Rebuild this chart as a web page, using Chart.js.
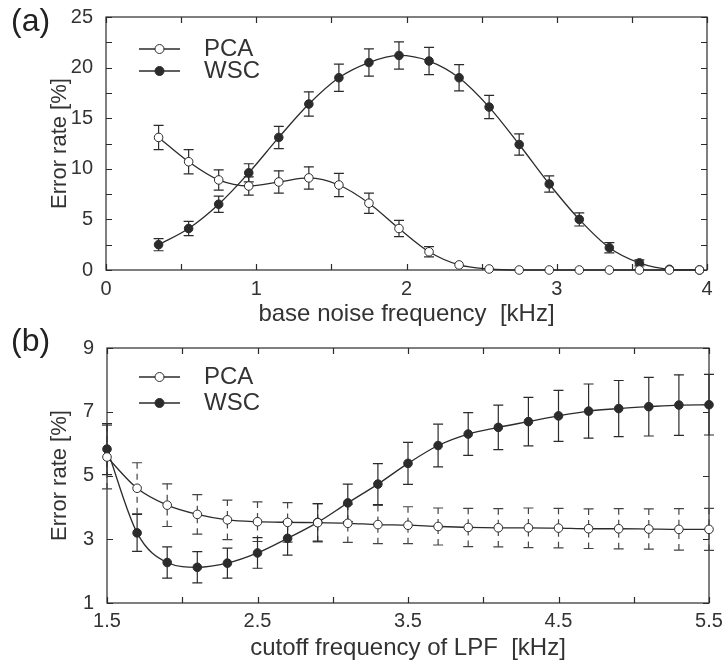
<!DOCTYPE html>
<html>
<head>
<meta charset="utf-8">
<script src="https://cdn.jsdelivr.net/npm/chart.js@4.4.1/dist/chart.umd.min.js"></script>
<style>
  body { margin: 0; background: #fff; }
  canvas { position: absolute; left: 0; display: block; }
</style>
</head>
<body>
<canvas id="chartA" width="724" height="333" style="top:0"></canvas>
<canvas id="chartB" width="724" height="346" style="top:320px"></canvas>
<script>
// ---------- data: panel (a) ----------
const freqA    = [0.35, 0.55, 0.75, 0.95, 1.15, 1.35, 1.55, 1.75, 1.95, 2.15, 2.35, 2.55, 2.75, 2.95, 3.15, 3.35, 3.55, 3.75, 3.95];
const pcaA     = [13.1, 10.7, 8.9, 8.3, 8.7, 9.1, 8.4, 6.6, 4.1, 1.8, 0.5, 0.1, 0, 0, 0, 0, 0, 0, 0];
const pcaErrA  = [1.2, 1.2, 1.0, 0.9, 1.1, 1.1, 1.15, 1.0, 0.8, 0.5, 0, 0, 0, 0, 0, 0, 0, 0, 0];
const wscA     = [2.5, 4.1, 6.5, 9.6, 13.1, 16.4, 19.0, 20.5, 21.2, 20.65, 19.0, 16.1, 12.4, 8.5, 5.0, 2.2, 0.7, 0.07, 0];
const wscErrA  = [0.6, 0.7, 0.8, 0.9, 1.1, 1.2, 1.35, 1.35, 1.35, 1.35, 1.3, 1.15, 1.05, 0.8, 0.65, 0.5, 0.3, 0, 0];
const xTicksA  = [0, 0.5, 1, 1.5, 2, 2.5, 3, 3.5, 4];
const yTicksA  = [0, 2.5, 5, 7.5, 10, 12.5, 15, 17.5, 20, 22.5, 25];

// ---------- data: panel (b) ----------
const freqB    = [1.5, 1.7, 1.9, 2.1, 2.3, 2.5, 2.7, 2.9, 3.1, 3.3, 3.5, 3.7, 3.9, 4.1, 4.3, 4.5, 4.7, 4.9, 5.1, 5.3, 5.5];
const pcaB     = [5.58, 4.6, 4.07, 3.78, 3.61, 3.55, 3.53, 3.52, 3.5, 3.46, 3.44, 3.4, 3.37, 3.36, 3.36, 3.35, 3.33, 3.33, 3.32, 3.31, 3.31];
const pcaErrB  = [1.0, 0.8, 0.67, 0.62, 0.62, 0.62, 0.62, 0.6, 0.6, 0.6, 0.58, 0.58, 0.6, 0.6, 0.62, 0.62, 0.62, 0.63, 0.63, 0.65, 0.66];
const wscB     = [5.83, 3.2, 2.27, 2.12, 2.25, 2.57, 3.03, 3.53, 4.14, 4.73, 5.38, 5.94, 6.3, 6.51, 6.69, 6.87, 7.02, 7.1, 7.16, 7.21, 7.22];
const wscErrB  = [0.8, 0.58, 0.49, 0.49, 0.47, 0.48, 0.53, 0.59, 0.59, 0.64, 0.66, 0.67, 0.67, 0.7, 0.76, 0.8, 0.85, 0.88, 0.92, 0.95, 0.95];
const xTicksB  = [1.5, 2, 2.5, 3, 3.5, 4, 4.5, 5, 5.5];
const yTicksB  = [1, 3, 5, 7, 9];

const INK = '#2b2b2b';
const FONT = "'Liberation Sans', Arial, sans-serif";

Chart.defaults.font.family = FONT;
Chart.defaults.color = '#333';

// ---------- plugins ----------
// box frame with inward ticks on all four sides
const framePlugin = {
    id: 'frame',
    beforeDatasetsDraw(chart) {
        const { ctx, chartArea: a, scales } = chart;
        const len = 6;
        ctx.save();
        ctx.strokeStyle = INK;
        ctx.lineWidth = 1.2;
        ctx.strokeRect(a.left, a.top, a.right - a.left, a.bottom - a.top);
        ctx.beginPath();
        scales.x.ticks.forEach(t => {
            const px = Math.round(scales.x.getPixelForValue(t.value)) + 0.5;
            ctx.moveTo(px, a.bottom); ctx.lineTo(px, a.bottom - len);
            ctx.moveTo(px, a.top);    ctx.lineTo(px, a.top + len);
        });
        scales.y.ticks.forEach(t => {
            const py = Math.round(scales.y.getPixelForValue(t.value)) + 0.5;
            ctx.moveTo(a.left, py);  ctx.lineTo(a.left + len, py);
            ctx.moveTo(a.right, py); ctx.lineTo(a.right - len, py);
        });
        ctx.stroke();
        ctx.restore();
    }
};

// vertical error bars, taken from dataset.errors
const errorBarPlugin = {
    id: 'errorBars',
    beforeDatasetsDraw(chart) {
        const { ctx, scales } = chart;
        chart.data.datasets.forEach(ds => {
            if (!ds.errors) return;
            ctx.save();
            ctx.strokeStyle = ds.errorColor || INK;
            ctx.lineWidth = 1.2;
            ds.data.forEach((p, i) => {
                const e = ds.errors[i];
                if (!e) return;
                const px = scales.x.getPixelForValue(p.x);
                const py = scales.y.getPixelForValue(p.y);
                const top = scales.y.getPixelForValue(p.y + e);
                const bot = scales.y.getPixelForValue(p.y - e);
                // stems, drawn from cap toward the point
                ctx.setLineDash(ds.errorDash || []);
                ctx.beginPath();
                ctx.moveTo(px, top); ctx.lineTo(px, py);
                ctx.moveTo(px, bot); ctx.lineTo(px, py);
                ctx.stroke();
                ctx.setLineDash([]);
                ctx.beginPath();
                ctx.moveTo(px - 5, top); ctx.lineTo(px + 5, top);
                ctx.moveTo(px - 5, bot); ctx.lineTo(px + 5, bot);
                ctx.stroke();
            });
            ctx.restore();
        });
    }
};

// legend inside the plot + panel letter
const insideLegendPlugin = {
    id: 'insideLegend',
    afterDraw(chart, args, opts) {
        const ctx = chart.ctx;
        ctx.save();
        chart.data.datasets.forEach((ds, i) => {
            const y = opts.rows[i];
            ctx.strokeStyle = INK;
            ctx.lineWidth = 1.3;
            ctx.beginPath();
            ctx.moveTo(opts.x0, y); ctx.lineTo(opts.x1, y);
            ctx.stroke();
            ctx.beginPath();
            ctx.arc((opts.x0 + opts.x1) / 2, y, 4.5, 0, Math.PI * 2);
            ctx.fillStyle = ds.pointBackgroundColor;
            ctx.fill();
            ctx.lineWidth = 1;
            ctx.stroke();
            ctx.fillStyle = '#333';
            ctx.font = '24px ' + FONT;
            ctx.textBaseline = 'middle';
            ctx.textAlign = 'left';
            ctx.fillText(ds.label, opts.textX, y);
        });
        ctx.font = '32px ' + FONT;
        ctx.textBaseline = 'alphabetic';
        ctx.fillStyle = '#222';
        ctx.fillText(opts.panel, 11, opts.panelY);
        ctx.restore();
    }
};

// ---------- chart builder ----------
function makeDataset(label, xs, ys, errs, filled, dash) {
    return {
        label: label,
        data: xs.map((x, i) => ({ x: x, y: ys[i] })),
        errors: errs,
        errorDash: dash,
        errorColor: dash ? '#444' : INK,
        borderColor: INK,
        borderWidth: 1.3,
        pointRadius: 4.3,
        pointBorderWidth: 1,
        pointBorderColor: INK,
        pointBackgroundColor: filled ? INK : '#fff',
        cubicInterpolationMode: 'monotone',
        clip: false
    };
}

function makeChart(id, cfg) {
    const isLabel = cfg.isLabel;
    new Chart(document.getElementById(id), {
        type: 'line',
        data: { datasets: cfg.datasets },
        options: {
            responsive: false,
            animation: false,
            devicePixelRatio: 1,
            layout: { padding: { left: 0, right: cfg.padRight, top: cfg.padTop, bottom: 0 } },
            plugins: {
                legend: { display: false },
                tooltip: { enabled: false },
                insideLegend: cfg.legend
            },
            scales: {
                x: {
                    type: 'linear',
                    min: cfg.xMin, max: cfg.xMax,
                    afterBuildTicks: s => { s.ticks = cfg.xTicks.map(v => ({ value: v })); },
                    afterFit: s => { s.height = 63; },
                    grid: { display: false },
                    border: { display: false },
                    ticks: {
                        autoSkip: false, maxRotation: 0, padding: cfg.xTickPad,
                        font: { size: 20 },
                        callback: v => isLabel.x(v) ? String(v) : ''
                    },
                    title: {
                        display: true, text: cfg.xTitle,
                        font: { size: 24 }, padding: { top: 0, bottom: cfg.xTitlePad }
                    }
                },
                y: {
                    type: 'linear',
                    min: cfg.yMin, max: cfg.yMax,
                    afterBuildTicks: s => { s.ticks = cfg.yTicks.map(v => ({ value: v })); },
                    afterFit: s => { s.width = cfg.yWidth; },
                    grid: { display: false },
                    border: { display: false },
                    ticks: {
                        autoSkip: false, padding: 5,
                        font: { size: 20 },
                        callback: v => isLabel.y(v) ? String(v) : ''
                    },
                    title: {
                        display: true, text: 'Error rate [%]',
                        font: { size: 22 }, padding: { top: 47, bottom: 0 }
                    }
                }
            }
        },
        plugins: [framePlugin, errorBarPlugin, insideLegendPlugin]
    });
}

const near = (a, b) => Math.abs(a - b) < 1e-6;

makeChart('chartA', {
    datasets: [
        makeDataset('PCA', freqA, pcaA, pcaErrA, false, null),
        makeDataset('WSC', freqA, wscA, wscErrA, true, null)
    ],
    xMin: 0, xMax: 4, yMin: 0, yMax: 25,
    xTicks: xTicksA, yTicks: yTicksA,
    isLabel: { x: v => near(v, Math.round(v)), y: v => near(v % 5, 0) },
    xTitle: 'base noise frequency  [kHz]',
    xTickPad: -1,
    xTitlePad: 4,
    yWidth: 106,
    padRight: 17,
    padTop: 15,
    legend: { x0: 139, x1: 180, textX: 204, rows: [49, 71], panel: '(a)', panelY: 31 }
});

makeChart('chartB', {
    datasets: [
        makeDataset('PCA', freqB, pcaB, pcaErrB, false, [6, 5]),
        makeDataset('WSC', freqB, wscB, wscErrB, true, null)
    ],
    xMin: 1.5, xMax: 5.5, yMin: 1, yMax: 9,
    xTicks: xTicksB, yTicks: yTicksB,
    isLabel: { x: v => near((v - 1.5) % 1, 0), y: v => true },
    xTitle: 'cutoff frequency of LPF  [kHz]',
    xTickPad: -2,
    xTitlePad: 3,
    yWidth: 107,
    padRight: 15,
    padTop: 28,
    legend: { x0: 139, x1: 180, textX: 204, rows: [57, 83], panel: '(b)', panelY: 31 }
});
</script>
</body>
</html>
